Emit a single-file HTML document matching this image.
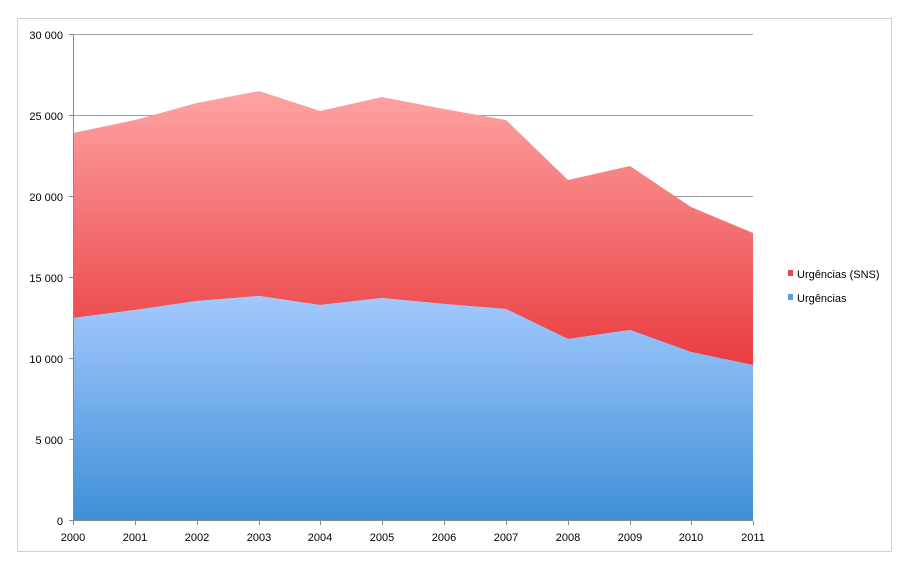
<!DOCTYPE html>
<html><head><meta charset="utf-8"><style>
body{margin:0;background:#fff;width:904px;height:566px;overflow:hidden}
text{font-family:"Liberation Sans",sans-serif;font-size:11px;fill:#000}
</style></head><body>
<svg width="904" height="566" viewBox="0 0 904 566">
<defs>
<linearGradient id="r" x1="0" y1="92" x2="0" y2="365" gradientUnits="userSpaceOnUse">
<stop offset="0" stop-color="#fda3a3"/><stop offset="1" stop-color="#ea3c40"/></linearGradient>
<linearGradient id="b" x1="0" y1="296" x2="0" y2="521" gradientUnits="userSpaceOnUse">
<stop offset="0" stop-color="#a3c9fd"/><stop offset="1" stop-color="#3f8fd8"/></linearGradient>
</defs>
<rect x="17.5" y="18.5" width="874" height="533" fill="#fff" stroke="#d0d0d0"/>
<g stroke="#a0a0a0" stroke-width="1">
<line x1="73" y1="34.5" x2="753" y2="34.5"/><line x1="73" y1="115.5" x2="753" y2="115.5"/>
<line x1="73" y1="196.5" x2="753" y2="196.5"/><line x1="73" y1="277.5" x2="753" y2="277.5"/>
<line x1="73" y1="358.5" x2="753" y2="358.5"/><line x1="73" y1="439.5" x2="753" y2="439.5"/>
</g>
<polygon fill="url(#r)" points="73,133 135,120 197,103 259,91 320,111 382,97 444,109 506,120 568,180 630,166 691,207 753,233 753,365 691,352 630,330 568,339 506,309 444,304 382,298 320,305 259,296 197,301 135,310 73,318"/>
<polygon fill="url(#b)" points="73,318 135,310 197,301 259,296 320,305 382,298 444,304 506,309 568,339 630,330 691,352 753,365 753,521 73,521"/>
<g stroke="#888"><line x1="73.5" y1="34" x2="73.5" y2="521"/><line x1="73" y1="520.5" x2="753" y2="520.5"/>
<line x1="69" y1="34.5" x2="73" y2="34.5"/><line x1="69" y1="115.5" x2="73" y2="115.5"/><line x1="69" y1="196.5" x2="73" y2="196.5"/><line x1="69" y1="277.5" x2="73" y2="277.5"/><line x1="69" y1="358.5" x2="73" y2="358.5"/><line x1="69" y1="439.5" x2="73" y2="439.5"/><line x1="69" y1="520.5" x2="73" y2="520.5"/>
<path d="M73.5 521v4M135.5 521v4M197.5 521v4M259.5 521v4M320.5 521v4M382.5 521v4M444.5 521v4M506.5 521v4M568.5 521v4M630.5 521v4M691.5 521v4M753.5 521v4"/></g>
<g text-anchor="end">
<text x="63" y="39">30 000</text><text x="63" y="120">25 000</text><text x="63" y="201">20 000</text><text x="63" y="282">15 000</text><text x="63" y="363">10 000</text><text x="63" y="444">5 000</text><text x="63" y="525">0</text></g>
<g text-anchor="middle">
<text x="73" y="541">2000</text><text x="135" y="541">2001</text><text x="197" y="541">2002</text><text x="259" y="541">2003</text><text x="320" y="541">2004</text><text x="382" y="541">2005</text><text x="444" y="541">2006</text><text x="506" y="541">2007</text><text x="568" y="541">2008</text><text x="630" y="541">2009</text><text x="691" y="541">2010</text><text x="753" y="541">2011</text></g>
<rect x="788" y="270" width="5" height="6" fill="#ea4a4e"/><text x="797" y="278">Urgências (SNS)</text>
<rect x="788" y="294" width="5" height="6" fill="#5a9de0"/><text x="797" y="302">Urgências</text>
</svg>
</body></html>
